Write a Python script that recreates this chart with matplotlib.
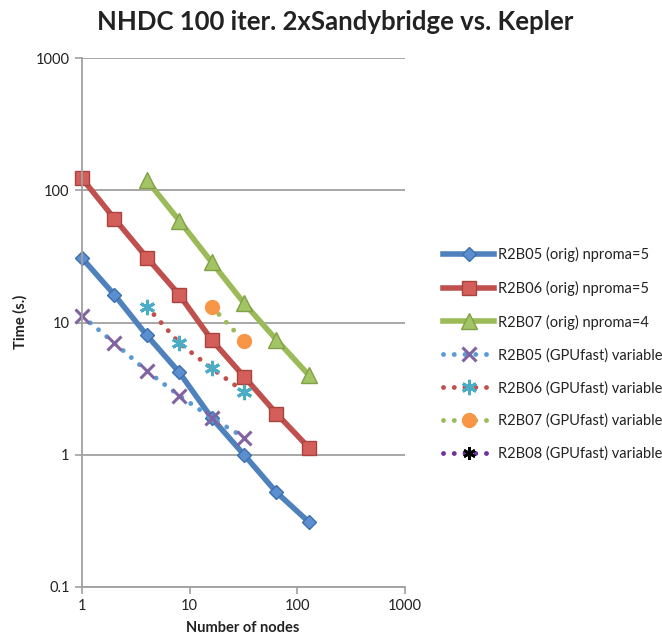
import matplotlib
matplotlib.use("Agg")
import matplotlib.pyplot as plt

nodes_05 = [1, 2, 4, 8, 16, 32, 64, 128]
r2b05_orig = [30.7, 16.2, 8.0, 4.2, 1.9, 1.0, 0.52, 0.31]
nodes_06 = [1, 2, 4, 8, 16, 32, 64, 128]
r2b06_orig = [123, 61, 31, 16.2, 7.4, 3.9, 2.05, 1.13]
nodes_07 = [4, 8, 16, 32, 64, 128]
r2b07_orig = [119, 59, 28.6, 14.0, 7.4, 4.0]
nodes_05g = [1, 2, 4, 8, 16, 32]
r2b05_gpu = [11.2, 7.0, 4.3, 2.8, 1.9, 1.35]
nodes_06g = [4, 8, 16, 32]
r2b06_gpu = [13.2, 7.0, 4.5, 3.0]
nodes_07g = [16, 32]
r2b07_gpu = [13.2, 7.2]
nodes_08g = []
r2b08_gpu = []

labels = ["R2B05 (orig) nproma=5", "R2B06 (orig) nproma=5", "R2B07 (orig) nproma=4",
          "R2B05 (GPUfast) variable", "R2B06 (GPUfast) variable",
          "R2B07 (GPUfast) variable", "R2B08 (GPUfast) variable"]

plt.rcParams['font.family'] = ['Lato', 'DejaVu Sans']

fig = plt.figure(figsize=(6.62, 6.41), dpi=100)
ax = fig.add_axes([82/662, 1-587/641, (405-82)/662, (587-58)/641])

blue = "#4F81BD"; red = "#C0504D"; green = "#9BBB59"
purple = "#8064A2"; cyan = "#4BACC6"; orange = "#F79646"
dotblue = "#5B9BD5"

lw = 4.0
h1, = ax.plot(nodes_05, r2b05_orig, color=blue, lw=lw, marker='D', ms=7.5,
              mfc="#5B8FD0", mec="#3E6FAE", clip_on=False)
h2, = ax.plot(nodes_06, r2b06_orig, color=red, lw=lw, marker='s', ms=10,
              mfc="#D45E5A", mec="#A84440", clip_on=False)
h3, = ax.plot(nodes_07, r2b07_orig, color=green, lw=lw, marker='^', ms=11,
              mfc="#A2C465", mec="#82A048", clip_on=False)
dots = (0, (0.01, 2.2))
h4, = ax.plot(nodes_05g, r2b05_gpu, color=dotblue, lw=3.5, ls=dots, dash_capstyle='round',
              marker='x', ms=10, mew=2.2, mec=purple, clip_on=False)
h5, = ax.plot(nodes_06g, r2b06_gpu, color=red, lw=3.5, ls=dots, dash_capstyle='round',
              marker=(6, 2, 0), ms=11, mew=2.2, mec=cyan, clip_on=False)
h6, = ax.plot(nodes_07g, r2b07_gpu, color=green, lw=3.5, ls=dots, dash_capstyle='round',
              marker='o', ms=10, mfc=orange, mec=orange, clip_on=False)
h7, = ax.plot(nodes_08g, r2b08_gpu, color="#7030A0", lw=3.5, ls=dots, dash_capstyle='round',
              marker=(6, 2, 0), ms=9, mew=2, mec='black')

ax.set_xscale('log')
ax.set_yscale('log')
ax.set_xlim(1, 1000)
ax.set_ylim(0.1, 1000)
ax.set_xticks([1, 10, 100, 1000])
ax.set_xticklabels(["1", "10", "100", "1000"])
ax.set_yticks([0.1, 1, 10, 100, 1000])
ax.set_yticklabels(["0.1", "1", "10", "100", "1000"])
ax.minorticks_off()
ax.tick_params(axis='both', which='major', labelsize=10.5, color='#A0A0A0',
               length=5, width=1.2, labelcolor='#222222', pad=4)
ax.yaxis.grid(True, color='#A0A0A0', lw=1.3)
ax.set_axisbelow(True)
for s in ['top', 'right']:
    ax.spines[s].set_visible(False)
for s in ['left', 'bottom']:
    ax.spines[s].set_color('#A0A0A0')
    ax.spines[s].set_linewidth(1.3)

fig.text(335/662, 1-22/641, "NHDC 100 iter. 2xSandybridge vs. Kepler",
         ha='center', va='center', fontsize=18.5, fontweight='bold', color='#222222')
fig.text(243/662, 1-628/641, "Number of nodes", ha='center', va='center',
         fontsize=10.5, fontweight='bold', color='#222222')
fig.text(20/662, 1-322/641, "Time (s.)", ha='center', va='center', rotation=90,
         fontsize=10.5, fontweight='bold', color='#222222')

fig.legend([h1, h2, h3, h4, h5, h6, h7], labels, loc='upper left',
           bbox_to_anchor=(436/662, 1-240/641), frameon=False, fontsize=10.5,
           handlelength=3.5, handletextpad=0.25, labelspacing=1.27,
           borderpad=0, labelcolor='#222222')

fig.savefig("out.png", dpi=100)
